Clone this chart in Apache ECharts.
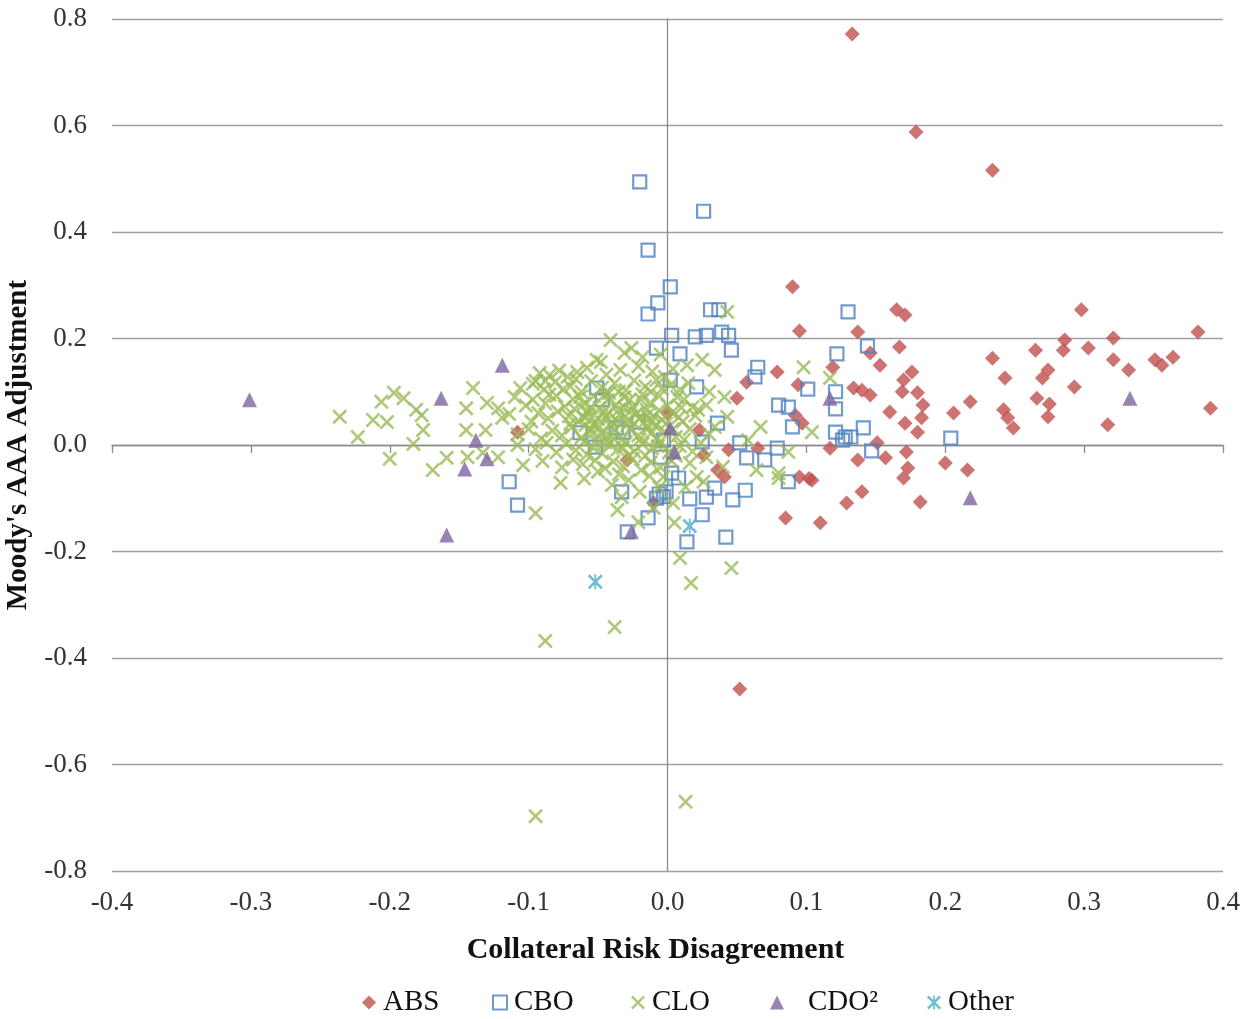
<!DOCTYPE html>
<html><head><meta charset="utf-8">
<script src="https://cdn.jsdelivr.net/npm/echarts/dist/echarts.min.js"></script>
<style>html,body{margin:0;padding:0;background:#fff}#c{width:1255px;height:1019px}</style>
</head><body><div id="c"></div>
<script>
const xTitle = 'Collateral Risk Disagreement';
const yTitle = "Moody's AAA Adjustment";
const seriesNames = ['ABS', 'CBO', 'CLO', 'CDO²', 'Other'];

const ABS = [[0.133,0.772],[0.179,0.588],[0.234,0.516],[0.090,0.297],[0.095,0.214],[0.137,0.212],[0.165,0.254],[0.171,0.244],[0.146,0.173],[0.153,0.150],[0.119,0.146],[0.167,0.184],[0.176,0.137],[0.170,0.122],[0.079,0.137],[0.057,0.118],[0.094,0.113],[0.134,0.107],[0.140,0.103],[0.146,0.094],[0.169,0.100],[0.180,0.098],[0.184,0.075],[0.160,0.062],[0.171,0.041],[0.183,0.051],[0.180,0.024],[0.050,0.088],[0.092,0.056],[0.097,0.041],[0.151,0.004],[0.117,-0.006],[0.137,-0.028],[0.157,-0.024],[0.172,-0.013],[0.173,-0.043],[0.170,-0.062],[0.200,-0.034],[0.216,-0.047],[0.206,0.060],[0.218,0.081],[0.234,0.163],[0.243,0.126],[0.242,0.066],[0.245,0.051],[0.249,0.032],[0.095,-0.060],[0.104,-0.066],[0.140,-0.088],[0.129,-0.109],[0.085,-0.137],[0.110,-0.146],[0.182,-0.107],[0.052,-0.458],[0.265,0.178],[0.270,0.126],[0.274,0.141],[0.266,0.088],[0.275,0.077],[0.274,0.053],[0.298,0.254],[0.286,0.197],[0.285,0.178],[0.303,0.182],[0.293,0.109],[0.321,0.201],[0.321,0.160],[0.332,0.141],[0.317,0.038],[0.351,0.160],[0.356,0.150],[0.364,0.165],[0.382,0.212],[0.391,0.069],[-0.108,0.024],[-0.010,-0.109],[0.023,0.028],[0.026,-0.019],[0.044,-0.009],[0.065,-0.006],[0.036,-0.047],[0.041,-0.060],[-0.029,-0.028],[0.000,0.060],[0.102,-0.063]];

const CBO = [[-0.020,0.494],[0.026,0.439],[-0.014,0.366],[0.002,0.297],[-0.007,0.267],[-0.014,0.246],[0.031,0.254],[0.037,0.254],[0.003,0.206],[0.020,0.203],[0.028,0.206],[0.039,0.212],[0.044,0.206],[0.046,0.178],[-0.008,0.182],[0.009,0.171],[0.130,0.250],[0.144,0.186],[0.122,0.171],[0.065,0.146],[0.063,0.128],[0.021,0.109],[0.101,0.105],[0.080,0.075],[0.087,0.071],[0.121,0.100],[0.121,0.068],[0.090,0.034],[0.121,0.024],[0.128,0.015],[0.126,0.009],[0.132,0.015],[0.141,0.032],[0.147,-0.011],[0.204,0.013],[0.079,-0.006],[0.087,-0.069],[0.052,0.004],[0.057,-0.024],[0.070,-0.028],[0.056,-0.085],[0.047,-0.103],[0.042,-0.173],[0.034,-0.081],[0.028,-0.098],[0.025,-0.131],[0.016,-0.101],[0.014,-0.182],[0.025,0.006],[0.036,0.041],[0.002,0.122],[-0.114,-0.069],[-0.108,-0.113],[-0.033,-0.088],[-0.029,-0.163],[-0.014,-0.137],[-0.006,-0.092],[-0.003,-0.097],[-0.008,-0.100],[-0.001,-0.088],[0.003,-0.053],[0.008,-0.062],[-0.051,0.107],[-0.047,0.085],[-0.063,0.023],[-0.032,0.024],[-0.021,0.043],[-0.003,0.009],[-0.005,-0.023],[-0.052,-0.004],[-0.037,0.032]];

const CLO = [[-0.236,0.053],[-0.223,0.015],[-0.206,0.081],[-0.197,0.098],[-0.190,0.088],[-0.212,0.047],[-0.202,0.043],[-0.181,0.066],[-0.177,0.056],[-0.176,0.028],[-0.183,0.002],[-0.200,-0.026],[-0.169,-0.047],[-0.159,-0.024],[-0.140,0.107],[-0.145,0.069],[-0.145,0.028],[-0.144,-0.023],
[-0.106,0.107],[-0.092,0.135],[-0.085,0.131],[-0.065,0.137],[-0.130,0.079],[-0.122,0.069],[-0.119,0.051],[-0.131,0.028],[-0.133,-0.015],[-0.122,-0.023],[-0.108,0.000],[-0.104,-0.038],[-0.077,-0.071],[-0.093,0.060],[-0.097,0.085],[-0.048,0.156],[-0.095,0.120],
[-0.041,0.197],[-0.031,0.173],[-0.026,0.182],[-0.051,0.160],[-0.018,0.165],[0.014,0.150],[0.025,0.160],[-0.005,0.170],
[-0.072,0.128],[-0.058,0.145],[-0.044,0.132],[-0.034,0.141],[-0.021,0.148],[-0.011,0.138],[0.004,0.143],[0.034,0.141],[-0.078,0.140],[-0.002,0.128],
[-0.097,0.115],[-0.089,0.104],[-0.081,0.118],[-0.070,0.110],[-0.062,0.100],[-0.055,0.120],[-0.047,0.108],[-0.038,0.116],[-0.030,0.103],[-0.024,0.121],[-0.016,0.110],[-0.008,0.122],[0.002,0.112],[0.015,0.116],[-0.066,0.124],[-0.042,0.098],[-0.012,0.100],[0.009,0.104],
[-0.110,0.090],[-0.088,0.078],[-0.080,0.092],[-0.074,0.072],[-0.068,0.086],[-0.060,0.078],[-0.053,0.092],[-0.049,0.070],[-0.043,0.084],[-0.037,0.076],[-0.031,0.090],[-0.025,0.072],[-0.019,0.085],[-0.013,0.078],[-0.006,0.092],[0.000,0.074],[0.007,0.090],[0.018,0.071],[0.028,0.075],[0.041,0.090],[-0.102,0.074],[-0.058,0.064],[-0.015,0.066],[0.022,0.066],
[-0.114,0.058],[-0.086,0.050],[-0.079,0.063],[-0.071,0.054],[-0.064,0.045],[-0.057,0.058],[-0.050,0.049],[-0.046,0.062],[-0.040,0.043],[-0.034,0.056],[-0.028,0.047],[-0.022,0.060],[-0.017,0.042],[-0.010,0.054],[-0.004,0.047],[0.003,0.060],[0.011,0.044],[0.020,0.055],[0.043,0.053],[-0.067,0.068],[-0.053,0.040],[-0.026,0.065],[-0.001,0.040],[-0.098,0.044],
[-0.100,0.030],[-0.091,0.012],[-0.083,0.027],[-0.076,0.018],[-0.069,0.033],[-0.062,0.014],[-0.056,0.026],[-0.049,0.034],[-0.044,0.016],[-0.038,0.028],[-0.033,0.010],[-0.027,0.030],[-0.021,0.018],[-0.014,0.032],[-0.008,0.012],[-0.002,0.025],[0.006,0.015],[0.016,0.030],[0.034,0.034],[0.067,0.034],[-0.059,0.038],[-0.041,0.036],[-0.012,0.022],[-0.108,0.020],
[-0.095,-0.008],[-0.087,0.004],[-0.080,-0.014],[-0.073,0.002],[-0.066,-0.010],[-0.060,0.006],[-0.054,-0.004],[-0.047,-0.016],[-0.042,0.003],[-0.036,-0.008],[-0.030,0.005],[-0.024,-0.012],[-0.018,0.002],[-0.011,-0.006],[-0.005,0.007],[0.001,-0.014],[0.009,-0.002],[0.024,0.004],[0.058,0.009],[-0.058,-0.018],[-0.028,-0.020],
[-0.090,-0.030],[-0.076,-0.042],[-0.068,-0.027],[-0.061,-0.036],[-0.052,-0.029],[-0.045,-0.044],[-0.039,-0.031],[-0.032,-0.040],[-0.025,-0.026],[-0.019,-0.047],[-0.012,-0.033],[-0.005,-0.042],[0.003,-0.030],[0.016,-0.034],[0.028,-0.023],[0.040,-0.041],[0.064,-0.047],[0.080,-0.053],
[-0.060,-0.063],[-0.040,-0.075],[-0.028,-0.066],[-0.020,-0.088],[-0.013,-0.058],[-0.006,-0.080],[0.004,-0.109],[0.013,-0.079],[0.021,-0.060],[0.026,-0.069],[0.080,-0.062],[-0.033,-0.098],[-0.010,-0.118],[-0.095,-0.128],[-0.036,-0.122],[0.005,-0.146],[-0.021,-0.145],
[-0.055,0.070],[-0.045,0.052],[-0.035,0.066],[-0.048,0.022],[-0.039,0.012],[-0.029,0.038],[-0.020,0.050],[-0.009,0.036],[0.010,0.070],[-0.063,0.090],[-0.070,0.040],[-0.052,0.008],[-0.016,-0.020],[0.012,0.010],[0.018,-0.012],
[-0.045,0.095],[-0.035,0.100],[-0.027,0.085],[-0.018,0.095],[-0.004,0.105],[0.012,0.085],[-0.060,0.052],[-0.042,0.060],[-0.031,0.070],[-0.015,0.055],[-0.006,0.065],[0.008,0.052],[-0.055,0.030],[-0.036,0.044],[-0.024,0.040],[-0.011,0.045],[0.004,0.030],[-0.045,0.005],[-0.032,-0.005],[-0.020,0.010],[-0.007,-0.002],[0.006,-0.020],[-0.050,-0.050],[-0.035,-0.055],[-0.003,-0.060],[0.030,0.100],[0.030,0.020],[-0.085,0.095],[-0.075,0.105],[-0.088,0.120],
[-0.088,-0.368],[-0.095,-0.697],[-0.038,-0.342],[0.009,-0.212],[0.017,-0.259],[0.046,-0.231],[0.013,-0.670],[0.043,0.250],[0.098,0.146],[0.117,0.126],[0.104,0.024],[0.087,-0.013]];

const CDO2 = [[-0.301,0.085],[-0.163,0.088],[-0.119,0.150],[-0.138,0.009],[-0.146,-0.045],[-0.130,-0.026],[-0.159,-0.169],[-0.026,-0.163],[0.002,0.032],[0.005,-0.013],[0.117,0.088],[0.218,-0.099],[0.333,0.088]];

const OTHER = [[-0.052,-0.257],[0.016,-0.152]];

const xTickMin = -0.4, xTickMax = 0.4, xTickStep = 0.1;
const yTickMin = -0.8, yTickMax = 0.8, yTickStep = 0.2;

const FONT = "'Liberation Serif', 'Times New Roman', serif";
const XPATH = 'path://M0,2.5L2.5,0L10,7.5L17.5,0L20,2.5L12.5,10L20,17.5L17.5,20L10,12.5L2.5,20L0,17.5L7.5,10Z';
const STARPATH = 'path://M0,2.5L2.5,0L10,7.5L17.5,0L20,2.5L12.5,10L20,17.5L17.5,20L10,12.5L2.5,20L0,17.5L7.5,10Z M8.8,0L11.2,0L11.2,20L8.8,20Z';

const chart = echarts.init(document.getElementById('c'), null, {renderer: 'canvas'});
const gridLine = '#a0a0a0';
const fmt = v => (Math.abs(v) < 1e-9 ? 0 : v).toFixed(1);

const legendLeft = [357, 487, 626, 765, 922];
const legendPadLeft = [2, 2, 2, 19, 2];
const legends = seriesNames.map((n, i) => ({
  data: [n], left: legendLeft[i], top: 983, itemWidth: 14, itemHeight: 14,
  textStyle: {fontFamily: FONT, fontSize: 29, color: '#111', padding: [0, 0, 0, legendPadLeft[i]]}
}));

chart.setOption({
  animation: false,
  backgroundColor: '#fff',
  grid: {left: 112, right: 32, top: 19, bottom: 148, containLabel: false, outerBoundsMode: 'none'},
  xAxis: [{
    type: 'value', min: xTickMin, max: xTickMax, interval: xTickStep, position: 'bottom',
    axisLine: {show: false, onZero: false}, axisTick: {show: false}, splitLine: {show: false},
    axisLabel: {formatter: fmt, fontFamily: FONT, fontSize: 27, color: '#333', margin: 18, showMinLabel: true, showMaxLabel: true, hideOverlap: false},
    name: xTitle, nameLocation: 'middle', nameGap: 64,
    nameTextStyle: {fontFamily: FONT, fontSize: 30, fontWeight: 'bold', color: '#111', padding: [0, 24, 0, 0]}
  }, {
    type: 'value', min: xTickMin, max: xTickMax, interval: xTickStep, position: 'bottom',
    axisLine: {show: true, onZero: true, lineStyle: {color: '#8c8c8c', width: 1.3}},
    axisTick: {show: true, inside: false, length: 8, lineStyle: {color: '#8c8c8c', width: 1.3}},
    axisLabel: {show: false}, splitLine: {show: false}
  }],
  yAxis: [{
    type: 'value', min: yTickMin, max: yTickMax, interval: yTickStep, position: 'left',
    axisLine: {show: false, onZero: false}, axisTick: {show: false},
    splitLine: {show: true, lineStyle: {color: gridLine, width: 1.3}},
    axisLabel: {formatter: fmt, fontFamily: FONT, fontSize: 27, color: '#333', margin: 25, showMinLabel: true, showMaxLabel: true, hideOverlap: false},
    name: yTitle, nameLocation: 'middle', nameGap: 74,
    nameTextStyle: {fontFamily: FONT, fontSize: 29, fontWeight: 'bold', color: '#111'}
  }, {
    type: 'value', min: yTickMin, max: yTickMax, interval: yTickStep, position: 'left',
    axisLine: {show: true, onZero: true, lineStyle: {color: '#8c8c8c', width: 1.3}},
    axisTick: {show: false}, axisLabel: {show: false}, splitLine: {show: false}
  }],
  legend: legends,
  series: [
    {name: 'ABS', type: 'scatter', data: ABS, symbol: 'diamond', symbolSize: 15,
     itemStyle: {color: '#C0504D'}},
    {name: 'CBO', type: 'scatter', data: CBO, symbol: 'rect', symbolSize: 13,
     itemStyle: {color: 'rgba(255,255,255,0)', borderColor: '#4F81BD', borderWidth: 2.2}},
    {name: 'CLO', type: 'scatter', data: CLO, symbol: XPATH, symbolSize: 15,
     itemStyle: {color: '#9BBB59'}},
    {name: 'CDO²', type: 'scatter', data: CDO2, symbol: 'triangle', symbolSize: 15,
     itemStyle: {color: '#8064A2'}},
    {name: 'Other', type: 'scatter', data: OTHER, symbol: STARPATH, symbolSize: 15,
     itemStyle: {color: '#4BACC6'}}
  ]
});
</script></body></html>
